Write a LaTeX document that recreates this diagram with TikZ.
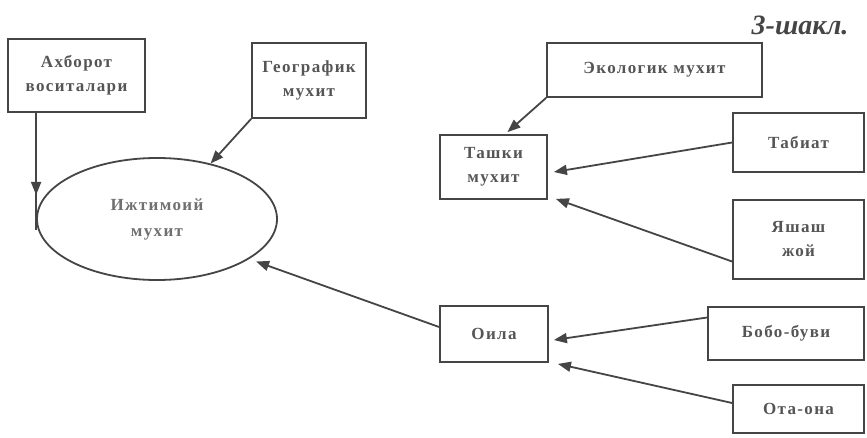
\documentclass[tikz,border=0pt]{standalone}
\usepackage{fontspec}
\setmainfont{Liberation Serif}
\newfontfamily\boxfont[LetterSpace=8]{Liberation Serif Bold}
\usetikzlibrary{arrows.meta,shapes.geometric}
\definecolor{ink}{HTML}{454545}
\definecolor{txt}{HTML}{555555}
\definecolor{soft}{HTML}{707070}
\tikzset{
  bx/.style={draw=ink, line width=1.8pt, rectangle, inner sep=0pt, text=txt,
    font=\boxfont\fontsize{17}{24}\selectfont, align=center},
  arr/.style={draw=ink, line width=1.8pt, -{Triangle[length=13pt,width=10pt]}},
  ln/.style={draw=ink, line width=1.8pt},
}
\begin{document}
\begin{tikzpicture}[x=1pt,y=-1pt]
\clip (0,0) rectangle (867,438);
\fill[white] (0,0) rectangle (867,438);
% title
\node[font=\bfseries\itshape\fontsize{28}{30}\selectfont, text=ink, anchor=east] (title) at (852,25) {3-шакл.};
% left part
\node[bx, minimum width=137pt, minimum height=73pt] (ahb) at (76.5,75.5) {Ахборот\\воситалари};
\node[bx, minimum width=114pt, minimum height=75pt] (geo) at (309,80.5) {Географик\\мухит};
\node[draw=ink, line width=1.8pt, ellipse, minimum width=240pt, minimum height=122pt,
  text=soft, font=\boxfont\fontsize{17}{26}\selectfont, align=center] (ell) at (157,219) {Ижтимоий\\мухит};
% right part
\node[bx, minimum width=215pt, minimum height=54pt] (ekol) at (654.5,70) {Экологик мухит};
\node[bx, minimum width=107pt, minimum height=64pt] (tash) at (493.5,167) {Ташки\\мухит};
\node[bx, minimum width=131pt, minimum height=59pt] (tab) at (798.5,142.5) {Табиат};
\node[bx, minimum width=131pt, minimum height=79pt] (yash) at (798.5,239.5) {Яшаш\\жой};
\node[bx, minimum width=108pt, minimum height=56pt] (oila) at (494,334) {Оила};
\node[bx, minimum width=156pt, minimum height=53pt] (bobo) at (786,333.5) {Бобо-буви};
\node[bx, minimum width=131pt, minimum height=48pt] (ota) at (798.5,409) {Ота-она};
% connectors
\coordinate (ahbend) at ([yshift=-11pt]ell.west);
\draw[ln] (ahb.south -| ell.west) -- (ahbend);
\draw[arr] (ahb.south -| ell.west) -- ([yshift=24pt]ell.west);
\draw[arr] (geo.south west) -- (ell.46);
\draw[arr] ([yshift=7pt]oila.west) -- ([xshift=6pt,yshift=-3pt]ell.-23);
\draw[arr] (ekol.south west) -- ([xshift=14pt,yshift=2pt]tash.north);
\draw[arr] (tab.west) -- ([xshift=6pt,yshift=-5pt]tash.east);
\draw[arr] ([yshift=-22pt]yash.west) -- ([xshift=8pt,yshift=1pt]tash.south east);
\draw[arr] ([yshift=16pt]bobo.west) -- ([xshift=5pt,yshift=-6pt]oila.east);
\draw[arr] ([yshift=6pt]ota.west) -- ([xshift=9pt,yshift=-1pt]oila.south east);
\end{tikzpicture}
\end{document}
